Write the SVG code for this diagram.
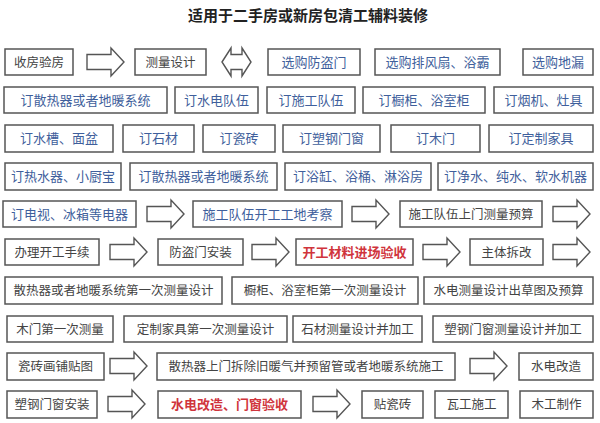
<svg xmlns="http://www.w3.org/2000/svg" xmlns:xlink="http://www.w3.org/1999/xlink" width="600" height="423" viewBox="0 0 600 423">
<style>
rect.b{fill:#fff;stroke:#555;stroke-width:1.5}
text{font-family:"Noto Sans CJK SC","Noto Sans",sans-serif;text-anchor:middle}
.k{font-size:12.5px;fill:#444}
.u{font-size:13px;fill:#3f5f9c}
.r{font-size:13px;fill:#d0343c;font-weight:bold}
.t{font-size:15px;font-weight:bold;fill:#222}
.ar{fill:#fff;stroke:#555;stroke-width:1.4;stroke-linejoin:miter}
</style>
<defs>
<path id="arr" d="M0,-7.5 H24 V-14 L37,0 L24,14 V7.5 H0 Z"/>
<path id="dbl" d="M0,0 L9,-14 V-7.5 H20 V-14 L29,0 L20,14 V7.5 H9 V14 Z"/>
</defs>
<rect width="600" height="423" fill="#fff"/>
<text class="t" x="308" y="21">适用于二手房或新房包清工辅料装修</text>

<g id="connectors">
<use href="#arr" class="ar" x="87" y="62"/>
<use href="#dbl" class="ar" x="222" y="62"/>
<use href="#arr" class="ar" x="147" y="214"/>
<use href="#arr" class="ar" x="352" y="214"/>
<use href="#arr" class="ar" x="553" y="214"/>
<use href="#arr" class="ar" x="110" y="252"/>
<use href="#arr" class="ar" x="252" y="252"/>
<use href="#arr" class="ar" x="423" y="252"/>
<use href="#arr" class="ar" x="553" y="252"/>
<use href="#arr" class="ar" x="110" y="366"/>
<use href="#arr" class="ar" x="470" y="366"/>
<use href="#arr" class="ar" x="108" y="404"/>
<use href="#arr" class="ar" x="313" y="404"/>
</g>

<!-- Row 1 -->
<g id="n1"><rect class="b" x="5" y="49" width="68" height="26"/><text class="k" x="39" y="66.5">收房验房</text></g>
<g id="n2"><rect class="b" x="135" y="49" width="71" height="26"/><text class="k" x="170.5" y="66.5">测量设计</text></g>
<g id="n3"><rect class="b" x="268" y="49" width="92" height="26"/><text class="u" x="314" y="66.5">选购防盗门</text></g>
<g id="n4"><rect class="b" x="375" y="49" width="125" height="26"/><text class="u" x="437.5" y="66.5">选购排风扇、浴霸</text></g>
<g id="n5"><rect class="b" x="523" y="49" width="70" height="26"/><text class="u" x="558" y="66.5">选购地漏</text></g>

<!-- Row 2 -->
<g id="n6"><rect class="b" x="4" y="87" width="163" height="26"/><text class="u" x="85.5" y="104.5">订散热器或者地暖系统</text></g>
<g id="n7"><rect class="b" x="175" y="87" width="83" height="26"/><text class="u" x="216.5" y="104.5">订水电队伍</text></g>
<g id="n8"><rect class="b" x="267" y="87" width="88" height="26"/><text class="u" x="311" y="104.5">订施工队伍</text></g>
<g id="n9"><rect class="b" x="363" y="87" width="122" height="26"/><text class="u" x="424" y="104.5">订橱柜、浴室柜</text></g>
<g id="n10"><rect class="b" x="494" y="87" width="99" height="26"/><text class="u" x="543.5" y="104.5">订烟机、灶具</text></g>

<!-- Row 3 -->
<g id="n11"><rect class="b" x="5" y="125" width="108" height="27"/><text class="u" x="59" y="143">订水槽、面盆</text></g>
<g id="n12"><rect class="b" x="123" y="125" width="71" height="27"/><text class="u" x="158.5" y="143">订石材</text></g>
<g id="n13"><rect class="b" x="203" y="125" width="72" height="27"/><text class="u" x="239" y="143">订瓷砖</text></g>
<g id="n14"><rect class="b" x="283" y="125" width="97" height="27"/><text class="u" x="331.5" y="143">订塑钢门窗</text></g>
<g id="n15"><rect class="b" x="391" y="125" width="89" height="27"/><text class="u" x="435.5" y="143">订木门</text></g>
<g id="n16"><rect class="b" x="489" y="125" width="104" height="27"/><text class="u" x="541" y="143">订定制家具</text></g>

<!-- Row 4 -->
<g id="n17"><rect class="b" x="5" y="163" width="116" height="27"/><text class="u" x="63" y="181">订热水器、小厨宝</text></g>
<g id="n18"><rect class="b" x="130" y="163" width="147" height="27"/><text class="u" x="203.5" y="181">订散热器或者地暖系统</text></g>
<g id="n19"><rect class="b" x="285" y="163" width="146" height="27"/><text class="u" x="358" y="181">订浴缸、浴桶、淋浴房</text></g>
<g id="n20"><rect class="b" x="438" y="163" width="155" height="27"/><text class="u" x="515.5" y="181">订净水、纯水、软水机器</text></g>

<!-- Row 5 -->
<g id="n21"><rect class="b" x="3" y="201" width="133" height="26"/><text class="u" x="69.5" y="218.5">订电视、冰箱等电器</text></g>
<g id="n22"><rect class="b" x="193" y="201" width="149" height="26"/><text class="u" x="267.5" y="218.5">施工队伍开工工地考察</text></g>
<g id="n23"><rect class="b" x="400" y="201" width="142" height="26"/><text class="k" x="471" y="218.5">施工队伍上门测量预算</text></g>

<!-- Row 6 -->
<g id="n24"><rect class="b" x="5" y="239" width="94" height="26"/><text class="k" x="52" y="256.5">办理开工手续</text></g>
<g id="n25"><rect class="b" x="158" y="239" width="85" height="26"/><text class="k" x="200.5" y="256.5">防盗门安装</text></g>
<g id="n26"><rect class="b" x="296" y="239" width="117" height="26"/><text class="r" x="354.5" y="256.5">开工材料进场验收</text></g>
<g id="n27"><rect class="b" x="470" y="239" width="73" height="26"/><text class="k" x="506.5" y="256.5">主体拆改</text></g>

<!-- Row 7 -->
<g id="n28"><rect class="b" x="5" y="277" width="217" height="27"/><text class="k" x="113.5" y="295">散热器或者地暖系统第一次测量设计</text></g>
<g id="n29"><rect class="b" x="232" y="277" width="186" height="27"/><text class="k" x="325" y="295">橱柜、浴室柜第一次测量设计</text></g>
<g id="n30"><rect class="b" x="424" y="277" width="169" height="27"/><text class="k" x="508.5" y="295">水电测量设计出草图及预算</text></g>

<!-- Row 8 -->
<g id="n31"><rect class="b" x="7" y="316" width="106" height="26"/><text class="k" x="60" y="333.5">木门第一次测量</text></g>
<g id="n32"><rect class="b" x="124" y="316" width="163" height="26"/><text class="k" x="205.5" y="333.5">定制家具第一次测量设计</text></g>
<g id="n33"><rect class="b" x="293" y="316" width="129" height="26"/><text class="k" x="357.5" y="333.5">石材测量设计并加工</text></g>
<g id="n34"><rect class="b" x="433" y="316" width="160" height="26"/><text class="k" x="513" y="333.5">塑钢门窗测量设计并加工</text></g>

<!-- Row 9 -->
<g id="n35"><rect class="b" x="7" y="353" width="97" height="27"/><text class="k" x="55.5" y="371">瓷砖画铺贴图</text></g>
<g id="n36"><rect class="b" x="157" y="353" width="298" height="27"/><text class="k" x="306" y="371">散热器上门拆除旧暖气并预留管或者地暖系统施工</text></g>
<g id="n37"><rect class="b" x="519" y="353" width="74" height="27"/><text class="k" x="556" y="371">水电改造</text></g>

<!-- Row 10 -->
<g id="n38"><rect class="b" x="7" y="391" width="90" height="27"/><text class="k" x="52" y="409">塑钢门窗安装</text></g>
<g id="n39"><rect class="b" x="158" y="391" width="143" height="27"/><text class="r" x="229.5" y="409">水电改造、门窗验收</text></g>
<g id="n40"><rect class="b" x="362" y="391" width="61" height="27"/><text class="k" x="392.5" y="409">贴瓷砖</text></g>
<g id="n41"><rect class="b" x="435" y="391" width="73" height="27"/><text class="k" x="471.5" y="409">瓦工施工</text></g>
<g id="n42"><rect class="b" x="520" y="391" width="73" height="27"/><text class="k" x="556.5" y="409">木工制作</text></g>
</svg>
